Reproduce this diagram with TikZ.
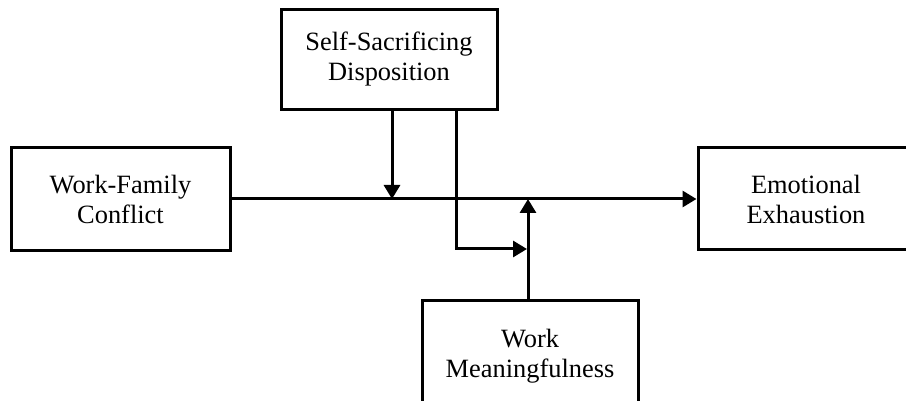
\documentclass[tikz,border=0pt]{standalone}
\usepackage{fontspec}
\setmainfont{Liberation Serif}
\usetikzlibrary{arrows.meta}
\begin{document}
\begin{tikzpicture}[x=1pt,y=-1pt,
  box/.style={draw,line width=3pt,rectangle,align=center,inner sep=0pt,
    minimum width=216pt,minimum height=102pt,font=\fontsize{26.4}{30}\selectfont},
  conn/.style={line width=3pt},
  arr/.style={conn,-{Triangle[length=14pt,width=16pt]}}]
\useasboundingbox (0,0) rectangle (906,401);
\fill[white] (0,0) rectangle (906,401);
\node[box,minimum width=219pt,minimum height=103pt] (wf) at (120.5,199) {Work-Family\\Conflict};
\node[box,minimum height=100pt] (ssd) at (389,60) {\raisebox{-5pt}{\begin{tabular}{@{}c@{}}Self-Sacrificing\\Disposition\end{tabular}}};
\node[box] (ee) at (806,199) {Emotional\\Exhaustion};
\node[box,minimum height=112pt] (wm) at (530,356) {Work\\Meaningfulness};
\coordinate (m1) at (392,199);
\coordinate (m2) at (528,199);
\coordinate (k) at (456,249);
\coordinate (k2) at (527,249);
\draw[arr] (wf.east) -- (ee.west);
\draw[arr] (ssd.south -| m1) -- (m1);
\draw[arr] (ssd.south -| k) -- (k) -- (k2);
\draw[arr] (wm.north -| m2) -- (m2);
\end{tikzpicture}
\end{document}
